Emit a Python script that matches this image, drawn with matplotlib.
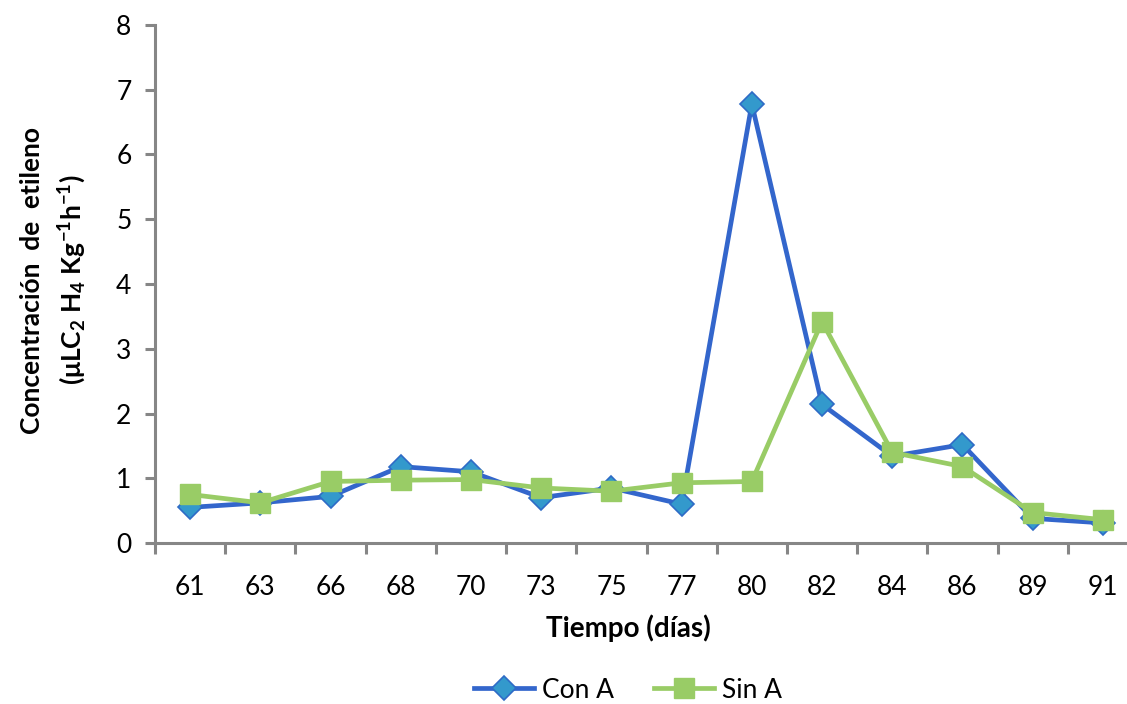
import matplotlib
matplotlib.use("Agg")
import matplotlib.pyplot as plt
import numpy as np

# ethylene readings per sampling day
dias = ["61", "63", "66", "68", "70", "73", "75", "77", "80", "82", "84", "86", "89", "91"]
con_a = [0.55, 0.62, 0.72, 1.18, 1.10, 0.70, 0.85, 0.60, 6.78, 2.14, 1.34, 1.52, 0.38, 0.31]
sin_a = [0.75, 0.62, 0.95, 0.97, 0.98, 0.85, 0.80, 0.93, 0.95, 3.42, 1.40, 1.18, 0.47, 0.36]

plt.rcParams["font.family"] = ["Lato", "DejaVu Sans"]
plt.rcParams["mathtext.fontset"] = "custom"
plt.rcParams["mathtext.rm"] = "Lato:bold"
plt.rcParams["mathtext.it"] = "Lato:bold"
plt.rcParams["mathtext.bf"] = "Lato:bold"

axis_gray = "#868686"

fig = plt.figure(figsize=(11.27, 7.04), dpi=100)
ax = fig.add_axes([155 / 1127, 161 / 704, 983 / 1127, 518 / 704])

x = np.arange(len(dias))
ax.plot(x, con_a, color="#3366CC", lw=3.4, marker="D", markersize=12,
        markerfacecolor="#3399CC", markeredgecolor="#2E6BC6", markeredgewidth=1.2,
        label="Con A", zorder=3)
ax.plot(x, sin_a, color="#99CC66", lw=3.4, marker="s", markersize=15,
        markerfacecolor="#99CC66", markeredgecolor="#99CC66",
        label="Sin A", zorder=4)

ax.set_xlim(-0.5, len(dias) - 0.5)
ax.set_ylim(0, 8)
ax.set_yticks(range(0, 9))
ax.set_xticks(x)
ax.set_xticklabels(dias)
ax.set_xticks(np.arange(-0.5, len(dias), 1.0), minor=True)

for side in ("top", "right"):
    ax.spines[side].set_visible(False)
for side in ("left", "bottom"):
    ax.spines[side].set_color(axis_gray)
    ax.spines[side].set_linewidth(2.2)

ax.tick_params(axis="y", which="major", length=7, width=2.2, color=axis_gray,
               labelsize=19, pad=10, direction="out")
ax.tick_params(axis="x", which="major", length=0, labelsize=19, pad=23)
ax.tick_params(axis="x", which="minor", length=8, width=2.2, color=axis_gray,
               direction="out")

fig.text(628 / 1127, 1 - 628 / 704, "Tiempo (días)", ha="center", va="center",
         fontsize=20, fontweight="bold")
fig.text(32 / 1127, 1 - 280 / 704, "Concentración  de  etileno", rotation=90,
         ha="center", va="center", fontsize=19, fontweight="bold")
fig.text(72 / 1127, 1 - 280 / 704,
         r"($\mu$LC$_2$ H$_4$ Kg$^{-1}$h$^{-1}$)", rotation=90,
         ha="center", va="center", fontsize=19, fontweight="bold")

fig.legend(loc="center", bbox_to_anchor=(628 / 1127, 1 - 690 / 704), ncol=2,
           frameon=False, fontsize=19, handlelength=2.3, columnspacing=1.5,
           handletextpad=0.3)

fig.savefig("out.png", dpi=100)
